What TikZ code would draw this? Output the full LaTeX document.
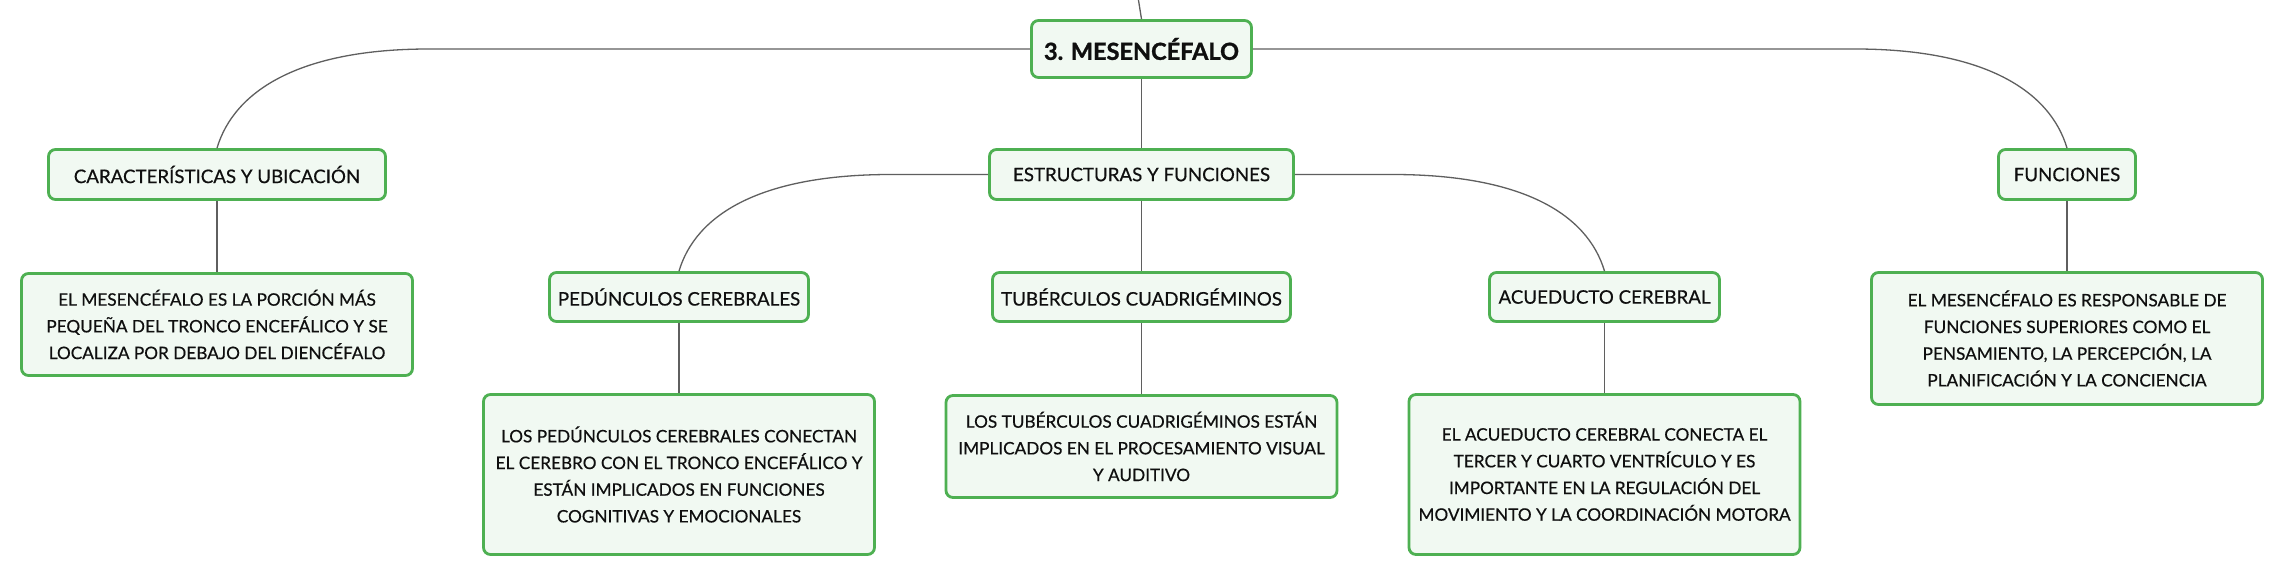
\documentclass[tikz,border=0pt]{standalone}
\usepackage{fontspec}
\setmainfont{Lato}
\usetikzlibrary{calc}
\definecolor{boxgreen}{RGB}{78,176,82}
\definecolor{boxfill}{RGB}{241,249,242}
\definecolor{conncol}{RGB}{95,95,95}
\definecolor{txtcol}{RGB}{15,15,15}
\begin{document}
\begin{tikzpicture}[x=1pt,y=-1pt,
  box/.style={draw=boxgreen, fill=boxfill, line width=2.8pt, rounded corners=7pt,
    inner sep=0pt, align=center, text=txtcol},
  rootbox/.style={box, font=\fontsize{23.5}{28}\selectfont\bfseries\addfontfeature{FakeBold=1.2}},
  headbox/.style={box, font=\fontsize{18.7}{22}\selectfont\addfontfeature{FakeBold=0.5}},
  textbox/.style={box, font=\fontsize{17.2}{26.7}\selectfont\addfontfeature{FakeBold=0.5}, minimum width=391pt},
  conn/.style={draw=conncol, line width=1.3pt}]
\useasboundingbox[fill=white] (0,0) rectangle (2284,577);

\node[rootbox, minimum width=220pt, minimum height=57pt] (root) at (1141.5,49) {3. MESENCÉFALO};
\node[headbox, minimum width=337pt, minimum height=50pt] (car) at (217,174.5) {CARACTERÍSTICAS Y UBICACIÓN};
\node[headbox, minimum width=304pt, minimum height=50pt] (est) at (1141.5,174.5) {ESTRUCTURAS Y FUNCIONES};
\node[headbox, minimum width=137pt, minimum height=50pt] (fun) at (2067,174.5) {FUNCIONES};

\node[textbox, minimum height=102pt] (t1) at (217,324.5)
  {EL MESENCÉFALO ES LA PORCIÓN MÁS\\PEQUEÑA DEL TRONCO ENCEFÁLICO Y SE\\LOCALIZA POR DEBAJO DEL DIENCÉFALO};
\node[headbox, minimum width=259pt, minimum height=49pt] (ped) at (679,297) {PEDÚNCULOS CEREBRALES};
\node[headbox, minimum width=298pt, minimum height=49pt] (tub) at (1141.5,297) {TUBÉRCULOS CUADRIGÉMINOS};
\node[headbox, minimum width=230pt, minimum height=49pt] (acu) at (1604.5,297) {ACUEDUCTO CEREBRAL};
\node[textbox, minimum height=132pt] (tfun) at (2067,338.5)
  {EL MESENCÉFALO ES RESPONSABLE DE\\FUNCIONES SUPERIORES COMO EL\\PENSAMIENTO, LA PERCEPCIÓN, LA\\PLANIFICACIÓN Y LA CONCIENCIA};
\node[textbox, minimum height=160pt] (tped) at (679,474.5)
  {LOS PEDÚNCULOS CEREBRALES CONECTAN\\EL CEREBRO CON EL TRONCO ENCEFÁLICO Y\\ESTÁN IMPLICADOS EN FUNCIONES\\COGNITIVAS Y EMOCIONALES};
\node[textbox, minimum height=102pt] (ttub) at (1141.5,446.5)
  {LOS TUBÉRCULOS CUADRIGÉMINOS ESTÁN\\IMPLICADOS EN EL PROCESAMIENTO VISUAL\\Y AUDITIVO};
\node[textbox, minimum height=160pt] (tacu) at (1604.5,474.5)
  {EL ACUEDUCTO CEREBRAL CONECTA EL\\TERCER Y CUARTO VENTRÍCULO Y ES\\IMPORTANTE EN LA REGULACIÓN DEL\\MOVIMIENTO Y LA COORDINACIÓN MOTORA};

% coordinates where the horizontal runs turn into curves
\coordinate (topend) at (1137.5,-6);
\coordinate (hcar) at ($(root.west -| car.north)+(212,0)$);
\coordinate (hfun) at ($(root.east -| fun.north)+(-212,0)$);
\coordinate (hped) at ($(est.west -| ped.north)+(212,0)$);
\coordinate (hacu) at ($(est.east -| acu.north)+(-212,0)$);

\begin{scope}[on background layer/.try]
\draw[conn] (root.north) -- (topend);
\draw[conn] (root.west) -- (hcar) .. controls +(-130,0) and +(17,-57) .. (car.north);
\draw[conn] (root.east) -- (hfun) .. controls +(130,0) and +(-17,-57) .. (fun.north);
\draw[conn] (root.south) -- (est.north);
\draw[conn] (est.west) -- (hped) .. controls +(-130,0) and +(17,-57) .. (ped.north);
\draw[conn] (est.east) -- (hacu) .. controls +(130,0) and +(-17,-57) .. (acu.north);
\draw[conn] (est.south) -- (tub.north);
\draw[conn] (car.south) -- (t1.north);
\draw[conn] (fun.south) -- (tfun.north);
\draw[conn] (ped.south) -- (tped.north);
\draw[conn] (tub.south) -- (ttub.north);
\draw[conn] (acu.south) -- (tacu.north);
\end{scope}
\end{tikzpicture}
\end{document}
